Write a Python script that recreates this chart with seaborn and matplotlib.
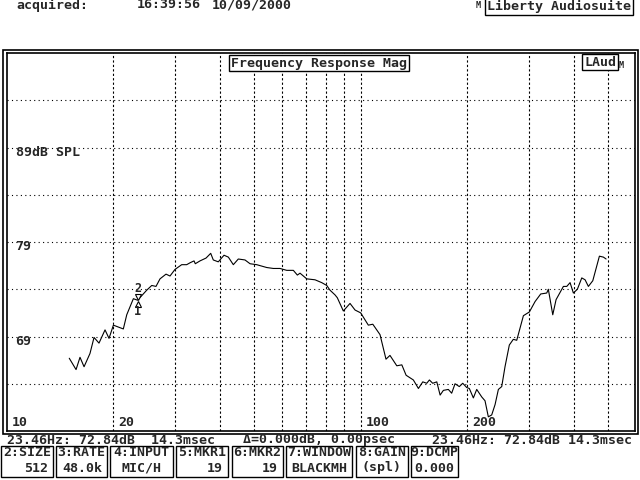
import seaborn as sns
import matplotlib.pyplot as plt
from matplotlib.patches import Rectangle
from matplotlib.transforms import offset_copy

# ---------------- data ----------------

freq_hz = [15.04, 15.72, 16.13, 16.56, 17.21, 17.67, 18.25, 18.98, 19.48, 20.04,
           21.38, 21.86, 22.82, 23.46, 24.89, 25.72, 26.44, 27.14, 28.22, 28.96,
           29.92, 31.25, 32.28, 32.99, 33.86, 34.14, 35.20, 36.61, 37.74, 38.38,
           39.65, 41.15, 42.33, 43.72, 45.16, 47.17, 48.74, 50.90, 54.33, 56.72,
           59.24, 61.88, 64.60, 66.30, 67.47, 70.47, 74.39, 77.70, 80.27, 82.00,
           84.72, 85.99, 89.41, 93.39, 96.50, 100.1, 105.2, 108.3, 113.5, 118.0,
           121.1, 126.6, 130.8, 134.5, 141.0, 145.7, 149.9, 153.8, 156.5, 159.9,
           164.2, 167.8, 171.4, 177.0, 180.9, 184.9, 190.1, 194.4, 199.5, 202.9,
           208.3, 212.9, 220.0, 224.7, 229.6, 234.7, 239.9, 245.1, 250.5, 255.9,
           263.2, 270.1, 276.2, 288.4, 299.9, 311.2, 322.8, 335.7, 339.2, 349.1,
           356.7, 374.1, 382.4, 390.7, 399.2, 409.7, 421.6, 430.8, 440.1, 452.9,
           472.8, 485.3, 493.9]

level_db = [66.7, 65.5, 66.8, 65.8, 67.2, 68.9, 68.3, 69.7, 68.8, 70.2,
            69.8, 71.3, 73.0, 72.84, 73.9, 74.4, 74.3, 75.1, 75.6, 75.4,
            76.1, 76.6, 76.6, 76.8, 77.0, 76.7, 77.0, 77.3, 77.8, 77.1,
            76.9, 77.6, 77.4, 76.6, 77.2, 77.1, 76.7, 76.6, 76.3, 76.2,
            76.2, 76.0, 76.0, 75.5, 75.7, 75.1, 75.0, 74.7, 74.4, 73.9,
            73.4, 73.1, 71.7, 72.5, 71.8, 71.5, 70.2, 70.3, 69.2, 66.6,
            67.0, 65.9, 66.0, 64.9, 64.4, 63.5, 64.2, 64.05, 64.4, 64.05,
            64.2, 62.8, 63.3, 63.4, 63.0, 64.0, 63.7, 64.05, 63.6, 63.5,
            62.5, 63.4, 62.6, 62.2, 60.5, 60.7, 61.8, 63.4, 63.7, 65.8,
            68.1, 68.7, 68.6, 71.2, 71.6, 72.7, 73.5, 73.6, 74.0, 71.3,
            72.9, 74.3, 74.3, 74.7, 73.6, 74.0, 75.2, 75.0, 74.3, 74.9,
            77.5, 77.4, 77.2]

x_grid = [20, 30, 40, 50, 60, 70, 80, 90, 100, 200, 300, 400, 500]
y_grid = [64, 69, 74, 79, 84, 89, 94]
x_label_vals = [10, 20, 100, 200]
y_label_vals = [69, 79, 89]
y_label_text = ["69", "79", "89dB SPL"]

marker_hz = 23.46
marker_db = 72.84

acq_text = ["acquired:", "16:39:56", "10/09/2000"]
status_text = ["23.46Hz: 72.84dB  14.3msec", "\u0394=0.000dB, 0.00psec",
               "23.46Hz: 72.84dB 14.3msec"]
key_names = ["2:SIZE", "3:RATE", "4:INPUT", "5:MKR1", "6:MKR2", "7:WINDOW", "8:GAIN", "9:DCMP"]
key_values = ["512", "48.0k", "MIC/H", "19", "19", "BLACKMH", "(spl)", "0.000"]

# ---------------- layout (pixels) ----------------

W, H = 640, 480
FS = 9.5
key_boxes = [(1, 53), (56, 107), (110, 173), (176, 228), (232, 283), (286, 352), (356, 408), (411, 458)]
key_align = ["right", "right", "center", "right", "right", "center", "center", "center"]


def fx(x):
    return x / W


def fy(y):
    return 1 - y / H


sns.set_style("white")
plt.rcParams['font.family'] = ['DejaVu Sans Mono', 'DejaVu Sans']
plt.rcParams['font.weight'] = 'bold'

fig = plt.figure(figsize=(6.4, 4.8), dpi=100)
ax = fig.add_axes([fx(6.5), fy(431), 628.5 / W, 378 / H])

sns.lineplot(x=freq_hz, y=level_db, ax=ax, color='black', lw=0.8,
             estimator=None, sort=False)
ax.set_xscale('log')
ax.set_xlim(10, 596)
ax.set_ylim(59, 99)
ax.set_xticks([])
ax.set_yticks([])
ax.minorticks_off()
ax.tick_params(which='both', length=0, labelbottom=False, labelleft=False)
for s in ax.spines.values():
    s.set_color('black')
    s.set_linewidth(1.2)

for v in x_grid:
    ax.axvline(v, color='black', lw=0.8, ls=(0, (2, 2)), zorder=1)
for v in y_grid:
    ax.axhline(v, color='black', lw=0.8, ls=(0, (1, 3)), zorder=1)

# axis labels drawn inside the plot
for v in x_label_vals:
    ax.annotate(str(v), xy=(v, 59), xytext=(3.5, 6), textcoords='offset points',
                ha='left', va='center', fontsize=FS)
for v, t in zip(y_label_vals, y_label_text):
    ax.annotate(t, xy=(10, v), xytext=(6.5, -3.3), textcoords='offset points',
                ha='left', va='center', fontsize=FS)

# marker pair: 2 over a down triangle, up triangle over 1
ax.annotate("2", xy=(marker_hz, marker_db), xytext=(0, 8.5), textcoords='offset points',
            ha='center', va='center', fontsize=8.5)
ax.annotate("1", xy=(marker_hz, marker_db), xytext=(0, -8), textcoords='offset points',
            ha='center', va='center', fontsize=8.5)
ax.plot(marker_hz, marker_db, marker='v', ms=4, mfc='white', mec='black', mew=0.8,
        transform=offset_copy(ax.transData, fig, x=0, y=2.6, units='points'))
ax.plot(marker_hz, marker_db, marker='^', ms=4, mfc='white', mec='black', mew=0.8,
        transform=offset_copy(ax.transData, fig, x=0, y=-2.4, units='points'))

# outer frame
fig.add_artist(Rectangle((fx(3), fy(434)), 635 / W, 384 / H, transform=fig.transFigure,
                         fill=False, ec='black', lw=1.2))

box = dict(boxstyle='square,pad=0.15', fc='white', ec='black', lw=1)
fig.text(fx(319), fy(63), "Frequency Response Mag", ha='center', va='center',
         fontsize=FS, bbox=box, zorder=5)
fig.text(fx(600), fy(62), "LAud", ha='center', va='center', fontsize=FS, bbox=box, zorder=5)
fig.text(fx(621), fy(65), "M", ha='center', va='center', fontsize=6)

# header
for t, x in zip(acq_text, [16, 137, 212]):
    fig.text(fx(x), fy(5), t, ha='left', va='center', fontsize=FS)
fig.text(fx(559), fy(6), "Liberty Audiosuite", ha='center', va='center', fontsize=FS, bbox=box)
fig.text(fx(478), fy(5), "M", ha='center', va='center', fontsize=6)

# status line
for t, x in zip(status_text, [7, 243, 432]):
    fig.text(fx(x), fy(440), t, ha='left', va='center', fontsize=FS)

# key boxes
for (x0, x1), name, val, al in zip(key_boxes, key_names, key_values, key_align):
    fig.add_artist(Rectangle((fx(x0), fy(477)), (x1 - x0) / W, 31 / H,
                             transform=fig.transFigure, fill=False, ec='black', lw=1))
    fig.text(fx((x0 + x1) / 2), fy(453), name, ha='center', va='center', fontsize=FS)
    vx = x1 - 5 if al == "right" else (x0 + x1) / 2
    fig.text(fx(vx), fy(468), val, ha=al, va='center', fontsize=FS)

fig.savefig("out.png", dpi=100, facecolor='white')
